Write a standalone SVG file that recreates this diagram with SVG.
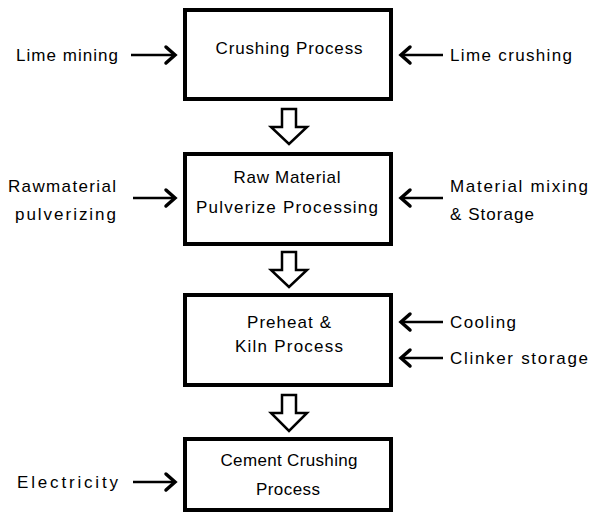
<svg xmlns="http://www.w3.org/2000/svg" width="589" height="514" viewBox="0 0 589 514">
<defs>
<style>
.box{fill:#fff;stroke:#000;stroke-width:4}
.t{font-family:"Liberation Sans",Arial,sans-serif;font-size:17px;fill:#000}
.c{text-anchor:middle}
.ln{stroke:#000;stroke-width:2.5;fill:none}
.hd{stroke:#000;stroke-width:3.5;fill:none;stroke-linejoin:miter;stroke-linecap:round}
.big{fill:#fff;stroke:#000;stroke-width:2.5;stroke-linejoin:miter}
</style>
</defs>
<rect width="589" height="514" fill="#fff"/>
<g id="n1">
<rect class="box" x="185" y="10" width="206" height="89"/>
<text class="t c" x="289" y="54" textLength="147" lengthAdjust="spacing">Crushing Process</text>
</g>
<g id="n2">
<rect class="box" x="185" y="154" width="206" height="90"/>
<text class="t c" x="287" y="183" textLength="107" lengthAdjust="spacing">Raw Material</text>
<text class="t c" x="287" y="213" textLength="182" lengthAdjust="spacing">Pulverize Processing</text>
</g>
<g id="n3">
<rect class="box" x="185" y="295" width="206" height="90"/>
<text class="t c" x="289" y="328" textLength="84" lengthAdjust="spacing">Preheat &amp;</text>
<text class="t c" x="289" y="352" textLength="108" lengthAdjust="spacing">Kiln Process</text>
</g>
<g id="n4">
<rect class="box" x="185" y="439" width="206" height="71"/>
<text class="t c" x="289" y="466" textLength="137" lengthAdjust="spacing">Cement Crushing</text>
<text class="t c" x="288" y="495" textLength="64" lengthAdjust="spacing">Process</text>
</g>
<g id="lbl">
<text class="t" x="16" y="61" textLength="102" lengthAdjust="spacing">Lime mining</text>
<text class="t" x="450" y="61" textLength="122" lengthAdjust="spacing">Lime crushing</text>
<text class="t" x="8" y="192" textLength="108" lengthAdjust="spacing">Rawmaterial</text>
<text class="t" x="15" y="220" textLength="101" lengthAdjust="spacing">pulverizing</text>
<text class="t" x="450" y="192" textLength="138" lengthAdjust="spacing">Material mixing</text>
<text class="t" x="450" y="220" textLength="84" lengthAdjust="spacing">&amp; Storage</text>
<text class="t" x="450" y="328" textLength="66" lengthAdjust="spacing">Cooling</text>
<text class="t" x="450" y="364" textLength="138" lengthAdjust="spacing">Clinker storage</text>
<text class="t" x="17" y="488" textLength="101" lengthAdjust="spacing">Electricity</text>
</g>
<g id="connectors">
<path class="big" d="M282,109 H296 V127 H307 L289,144 L271,127 H282 Z"/>
<path class="big" d="M282,252 H296 V270 H307 L289,287 L271,270 H282 Z"/>
<path class="big" d="M282,395 H296 V413 H307 L289,431 L271,413 H282 Z"/>
<path class="ln" d="M131,55 H174"/><path class="hd" d="M166,47 L175,55 L166,63"/>
<path class="ln" d="M402,55 H443"/><path class="hd" d="M410,47 L401,55 L410,63"/>
<path class="ln" d="M133,198 H174"/><path class="hd" d="M166,190 L175,198 L166,206"/>
<path class="ln" d="M402,198 H443"/><path class="hd" d="M410,190 L401,198 L410,206"/>
<path class="ln" d="M402,322 H443"/><path class="hd" d="M410,314 L401,322 L410,330"/>
<path class="ln" d="M402,358 H443"/><path class="hd" d="M410,350 L401,358 L410,366"/>
<path class="ln" d="M133,482 H174"/><path class="hd" d="M166,474 L175,482 L166,490"/>
</g>
</svg>
